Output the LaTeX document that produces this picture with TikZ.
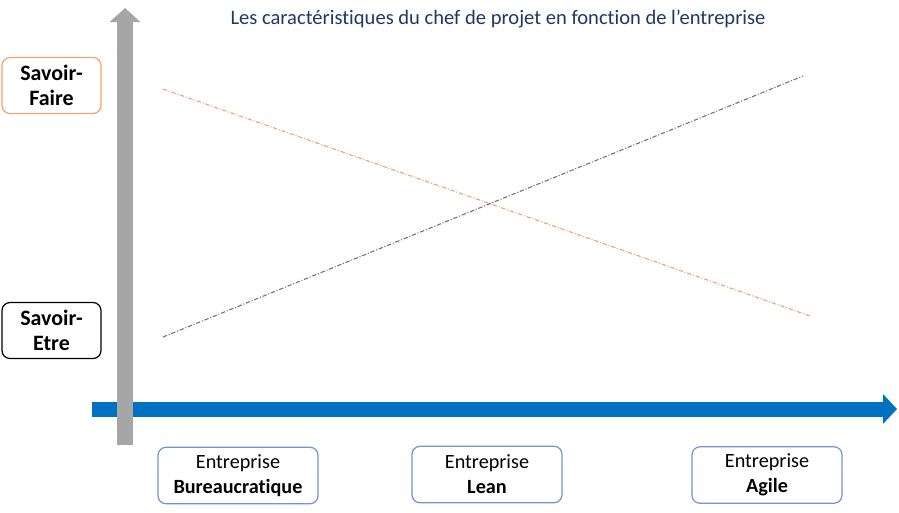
\documentclass[tikz,border=0pt]{standalone}
\usepackage{fontspec}
\setmainfont{Carlito}[Ligatures=NoCommon]
\usetikzlibrary{arrows.meta,positioning}

\definecolor{axisblue}{HTML}{0070C0}
\definecolor{axisgray}{HTML}{A6A6A6}
\definecolor{boxorange}{HTML}{F4A46A}
\definecolor{boxblue}{HTML}{6F95D6}
\definecolor{titleblue}{HTML}{203864}
\definecolor{lineorange}{HTML}{EDA070}
\definecolor{linegray}{HTML}{707070}

\tikzset{
  skillbox/.style={draw, rounded corners=1.6mm, line width=0.7pt, align=center,
    minimum width=1.98cm, minimum height=1.12cm, font=\fontsize{12.5}{14.5}\selectfont\bfseries},
  firmbox/.style={draw=boxblue, rounded corners=1.6mm, line width=0.7pt, align=center,
    minimum width=3.0cm, minimum height=1.13cm, font=\fontsize{11.5}{14.2}\selectfont},
  trend/.style={line width=0.6pt, dash pattern=on 2.5pt off 1pt on 0.6pt off 1pt}
}

\begin{document}
\begin{tikzpicture}[x=0.02cm,y=-0.02cm]
  \useasboundingbox (0,0) rectangle (899,512);

  % axes
  \coordinate (xstart) at (92,409);
  \coordinate (xend) at (897,409);
  \coordinate (ystart) at (125,445);
  \coordinate (yend) at (125,8);
  \draw[axisblue, line width=3mm, -{Triangle[width=5.8mm,length=2.8mm]}] (xstart) -- (xend);
  \draw[axisgray, line width=3.1mm, -{Triangle[width=6mm,length=2.8mm]}] (ystart) -- (yend);

  \node[text=titleblue, font=\fontsize{11.7}{14}\selectfont] (title) at (498,19)
    {Les caractéristiques du chef de projet en fonction de l’entreprise};

  % skills
  \node[skillbox, draw=boxorange] (faire) at (51.5,85.5) {Savoir-\\Faire};
  \node[skillbox, draw=black] (etre) at (51.5,330.5) {Savoir-\\Etre};

  % firms
  \node[firmbox, minimum width=3.2cm] (bureau) at (238,475.5) {Entreprise\\\textbf{Bureaucratique}};
  \node[firmbox] (lean) at (487,474.5) {Entreprise\\\textbf{Lean}};
  \node[firmbox] (agile) at (767,475) {Entreprise\\\textbf{Agile}};

  % trends
  \coordinate (fhigh) at (163,89);
  \coordinate (flow) at (810,316);
  \coordinate (elow) at (163,337);
  \coordinate (ehigh) at (803,76);
  \draw[trend, lineorange] (fhigh) -- (flow);
  \draw[trend, linegray] (elow) -- (ehigh);
\end{tikzpicture}
\end{document}
